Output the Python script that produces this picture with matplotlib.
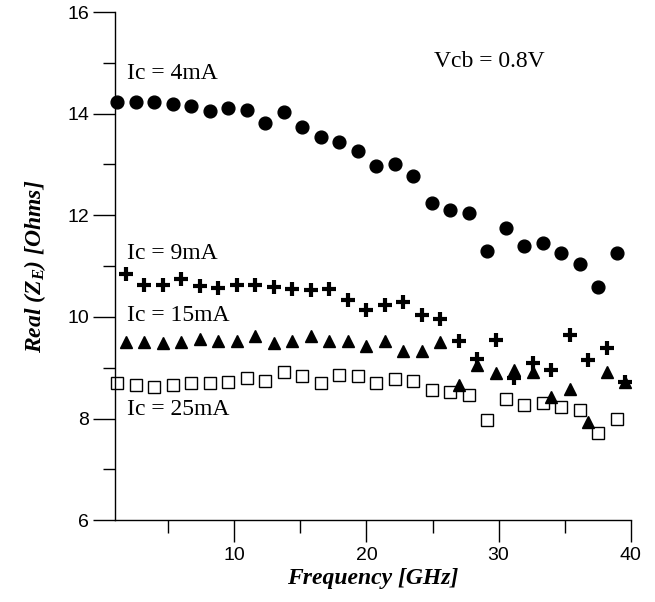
import matplotlib
matplotlib.use("Agg")
import matplotlib.pyplot as plt
from matplotlib.ticker import MultipleLocator, FixedLocator

plt.rcParams["mathtext.fontset"] = "custom"
plt.rcParams["mathtext.it"] = "Liberation Serif:italic:bold"
plt.rcParams["mathtext.rm"] = "Liberation Serif:bold:italic"

# Measurement frequencies (GHz)
freq_a = [1.15, 2.55, 3.95, 5.35, 6.75, 8.15, 9.55, 10.95, 12.35, 13.75,
          15.15, 16.55, 17.95, 19.35, 20.75, 22.15, 23.55, 24.95, 26.35, 27.75,
          29.15, 30.55, 31.95, 33.35, 34.75, 36.15, 37.55, 38.95]
freq_b = [1.8, 3.2, 4.6, 6.0, 7.4, 8.8, 10.2, 11.6, 13.0, 14.4,
          15.8, 17.2, 18.6, 20.0, 21.4, 22.8, 24.2, 25.6, 27.0, 28.4,
          29.8, 31.2, 32.6, 34.0, 35.4, 36.8, 38.2, 39.6]

# Real part of emitter impedance (Ohms) for each collector current
re_ic4 = [14.23, 14.23, 14.23, 14.19, 14.16, 14.05, 14.12, 14.08, 13.81, 14.03,
          13.74, 13.55, 13.45, 13.26, 12.97, 13.01, 12.78, 12.25, 12.10, 12.04,
          11.30, 11.74, 11.40, 11.45, 11.26, 11.05, 10.58, 11.26]
re_ic9 = [10.84, 10.63, 10.62, 10.74, 10.61, 10.56, 10.63, 10.62, 10.58, 10.54,
          10.53, 10.54, 10.34, 10.13, 10.23, 10.30, 10.03, 9.96, 9.53, 9.18,
          9.54, 8.79, 9.09, 8.95, 9.64, 9.15, 9.38, 8.72]
re_ic15 = [9.50, 9.50, 9.48, 9.50, 9.56, 9.52, 9.52, 9.62, 9.48, 9.52,
           9.62, 9.53, 9.53, 9.42, 9.52, 9.33, 9.33, 9.50, 8.66, 9.05,
           8.89, 8.95, 8.92, 8.43, 8.59, 7.93, 8.92, 8.72]
re_ic25 = [8.69, 8.66, 8.63, 8.66, 8.70, 8.69, 8.72, 8.79, 8.74, 8.92,
           8.84, 8.69, 8.86, 8.84, 8.69, 8.77, 8.74, 8.57, 8.53, 8.46,
           7.97, 8.38, 8.26, 8.30, 8.23, 8.16, 7.72, 7.99]

x_ticks = [10, 20, 30, 40]
y_ticks = [6, 8, 10, 12, 14, 16]

serif = "Liberation Serif"
sans = "Liberation Sans"

fig = plt.figure(figsize=(6.55, 6.02), dpi=100)
ax = fig.add_axes([0.176, 0.136, 0.787, 0.844])

ax.plot(freq_a, re_ic4, linestyle="none", marker="o", markersize=9.2,
        color="black", clip_on=False, zorder=3)
ax.plot(freq_b, re_ic9, linestyle="none", marker="+", markersize=10,
        markeredgewidth=3.0, color="black", clip_on=False, zorder=3)
ax.plot(freq_b, re_ic15, linestyle="none", marker="^", markersize=8,
        color="black", clip_on=False, zorder=3)
ax.plot(freq_a, re_ic25, linestyle="none", marker="s", markersize=8,
        markerfacecolor="none", markeredgecolor="black", markeredgewidth=1.0,
        clip_on=False, zorder=3)

ax.set_xlim(1, 40)
ax.set_ylim(6, 16)

ax.xaxis.set_major_locator(FixedLocator(x_ticks))
ax.xaxis.set_minor_locator(FixedLocator([5, 15, 25, 35]))
ax.yaxis.set_major_locator(FixedLocator(y_ticks))
ax.yaxis.set_minor_locator(MultipleLocator(1))

for side in ("top", "right"):
    ax.spines[side].set_visible(False)
for side in ("left", "bottom"):
    ax.spines[side].set_linewidth(1.0)

ax.tick_params(which="major", direction="out", length=16, width=1.0,
               labelsize=14, pad=3)
ax.tick_params(which="minor", direction="out", length=9, width=1.0)
ax.tick_params(axis="x", pad=3)
for lbl in ax.get_xticklabels() + ax.get_yticklabels():
    lbl.set_fontfamily(sans)

ax.set_xlabel("Frequency [GHz]", fontfamily=serif, fontsize=17,
              fontweight="bold", fontstyle="italic", labelpad=3)
ax.set_ylabel(r"Real (Z$_{E}$) [Ohms]", fontfamily=serif, fontsize=17,
              fontweight="bold", fontstyle="italic", labelpad=14)

text_kw = dict(fontfamily=serif, fontsize=17, va="center", ha="left")
ax.text(1.9, 14.80, "Ic = 4mA", **text_kw)
ax.text(25.1, 15.02, "Vcb = 0.8V", **text_kw)
ax.text(1.9, 11.24, "Ic = 9mA", **text_kw)
ax.text(1.9, 10.02, "Ic = 15mA", **text_kw)
ax.text(1.9, 8.17, "Ic = 25mA", **text_kw)

fig.savefig("out.png", dpi=100)
